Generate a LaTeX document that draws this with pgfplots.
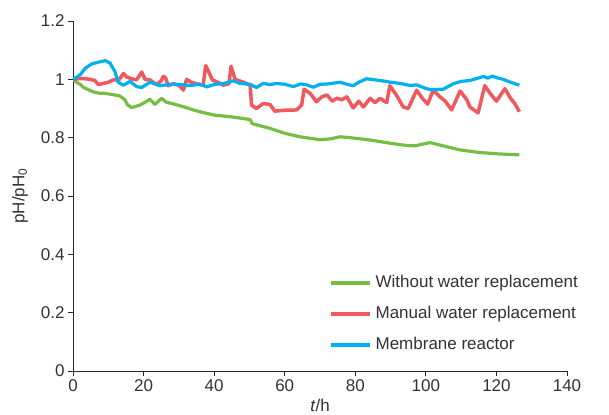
\documentclass[border=0pt]{standalone}
\usepackage{fontspec}
\setmainfont{Liberation Sans}
\usepackage{pgfplots}
\pgfplotsset{compat=1.18}
\definecolor{cgreen}{RGB}{118,190,67}
\definecolor{cred}{RGB}{240,88,94}
\definecolor{cblue}{RGB}{0,176,240}
\definecolor{ctext}{RGB}{50,50,50}
\begin{document}
\begin{tikzpicture}
\begin{axis}[
  width=494bp, height=350bp, scale only axis,
  xmin=0, xmax=140, ymin=0, ymax=1.2,
  xtick={0,20,...,140}, ytick={0,0.2,0.4,0.6,0.8,1,1.2},
  axis x line=bottom, axis y line=left,
  axis line style={-, draw=black!85, line width=0.8bp},
  tick align=outside, major tick length=5bp,
  tick style={draw=black!85, line width=0.8bp},
  /pgf/number format/assume math mode=true,
  ticklabel style={font=\fontsize{17bp}{20bp}\selectfont, text=ctext},
  yticklabel style={/pgf/number format/fixed},
  every axis y label/.style={at={(axis description cs:0,0.5)}, xshift=-53bp, rotate=90, anchor=center, font=\fontsize{17bp}{20bp}\selectfont, text=ctext},
  every axis x label/.style={at={(axis description cs:0.5,0)}, yshift=-34bp, anchor=center, font=\fontsize{17bp}{20bp}\selectfont, text=ctext},
  ylabel={pH/pH\textsubscript{0}},
  xlabel={\textit{t}/h},
  legend cell align=left,
  legend image code/.code={\draw[#1] (0bp,0bp) -- (39bp,0bp);},
  legend style={draw=none, fill=none, at={(axis description cs:0.512,0.28)}, anchor=north west,
    font=\fontsize{17bp}{20bp}\selectfont, text=ctext,
    nodes={inner sep=0pt, text height=12bp, text depth=3.5bp},
    row sep=15.5bp,
    /tikz/every odd column/.append style={column sep=4bp}},
]
\addplot[cgreen, line width=3.2bp, line join=round] coordinates {
(0,1.0) (1,0.99) (2,0.983) (3,0.972) (4.8,0.962) (6,0.956) (7.6,0.952) (9,0.952) (10.5,0.949) (12,0.946) (13.3,0.943) (14.7,0.93) (15.5,0.912) (16.6,0.903) (18,0.908) (19,0.912) (20.4,0.921) (21.8,0.932) (23.2,0.914) (25.1,0.935) (26.5,0.921) (28.4,0.916) (31.3,0.906) (34.1,0.895) (36.9,0.886) (40.2,0.877) (44.5,0.872) (48,0.866) (50.2,0.862) (50.8,0.848) (53,0.841) (55.8,0.832) (60,0.815) (64.3,0.803) (70,0.793) (73,0.796) (75.7,0.803) (78.5,0.800) (84.2,0.792) (89.8,0.781) (94.6,0.773) (97,0.772) (99.5,0.779) (101.2,0.783) (104.9,0.772) (109.7,0.758) (115.3,0.749) (121,0.744) (126.5,0.741)
};
\addlegendentry{Without water replacement}
\addplot[cred, line width=3.5bp, line join=round] coordinates {
(0,1.0) (1.5,1.002) (2.9,1.003) (4.8,1.0) (6.2,0.996) (7.2,0.982) (8.6,0.986) (10,0.99) (11.4,0.998) (13,0.998) (14.3,1.02) (15.2,1.008) (16.6,1.002) (18,0.998) (19.5,1.025) (20.4,1.0) (21.8,0.998) (23.7,0.982) (25,0.995) (25.6,1.01) (26.2,1.006) (27,0.978) (28.4,0.985) (30,0.98) (31.3,0.963) (32.2,1.0) (33.5,0.99) (35,0.985) (36.9,0.98) (37.6,1.047) (38.3,1.03) (39.5,0.998) (41,0.99) (42.6,0.98) (44.2,0.985) (44.8,1.045) (45.9,1.0) (48.3,0.99) (50.2,0.98) (50.6,0.912) (52,0.9) (53.9,0.917) (55.8,0.914) (57.2,0.891) (60.1,0.894) (63.4,0.895) (64.8,0.912) (65.5,0.966) (67.2,0.952) (69,0.923) (70.5,0.94) (72,0.946) (73.5,0.925) (74.7,0.935) (76.2,0.93) (77.6,0.94) (79.4,0.902) (81,0.925) (82.3,0.905) (84.2,0.935) (85.6,0.92) (87,0.935) (88.9,0.92) (89.8,0.978) (91.7,0.945) (93.6,0.905) (95,0.9) (97.4,0.963) (99,0.935) (100.5,0.915) (102.1,0.963) (104,0.94) (105.5,0.925) (107.3,0.895) (109.7,0.96) (111.6,0.93) (112.5,0.905) (114.8,0.885) (116.7,0.978) (118.2,0.952) (120,0.925) (122.4,0.968) (124,0.935) (125.2,0.917) (126.5,0.889)
};
\addlegendentry{Manual water replacement}
\addplot[cblue, line width=3.2bp, line join=round] coordinates {
(0,1.0) (2,1.015) (3.4,1.037) (5.3,1.053) (7.6,1.06) (9.1,1.064) (10.5,1.056) (11.9,1.026) (12.8,0.99) (14.3,0.98) (16.2,0.993) (18,0.975) (19.5,0.972) (21.8,0.99) (24.7,0.978) (27.5,0.983) (30.3,0.982) (33.2,0.979) (36,0.983) (37.9,0.974) (40.2,0.983) (42.5,0.985) (45.4,0.995) (47.3,0.986) (50.2,0.983) (52,0.972) (53.9,0.986) (55.8,0.982) (57.7,0.986) (60.1,0.983) (62.4,0.975) (64.5,0.984) (66,0.982) (68.1,0.973) (70,0.983) (72,0.984) (75.7,0.99) (78,0.982) (79.4,0.978) (81,0.99) (83.2,1.002) (87,0.996) (90,0.99) (92.7,0.986) (95.5,0.979) (97.4,0.981) (99.7,0.97) (101.2,0.965) (104.9,0.966) (107.8,0.985) (110,0.993) (112.5,0.996) (115.3,1.006) (116.3,1.01) (117.5,1.004) (118.8,1.011) (120,1.006) (121.9,1.0) (124,0.99) (126.5,0.98)
};
\addlegendentry{Membrane reactor}
\end{axis}
\path ([xshift=-73bp,yshift=-44bp]current axis.south west) rectangle ([xshift=42bp,yshift=21bp]current axis.north east);
\end{tikzpicture}
\end{document}
